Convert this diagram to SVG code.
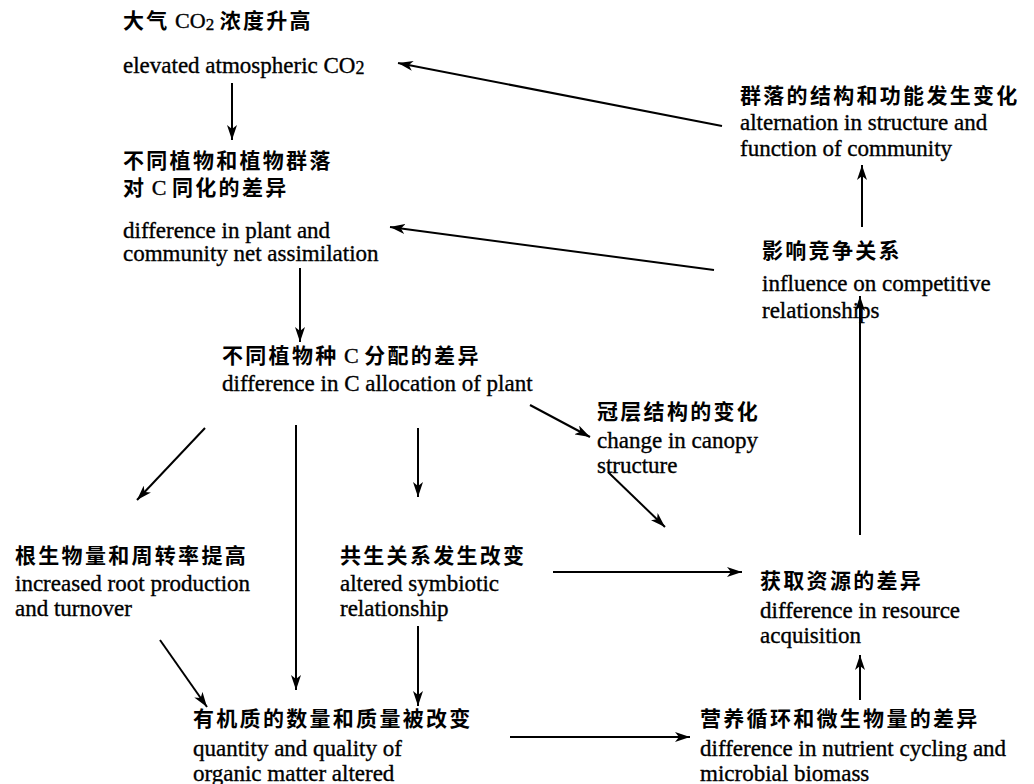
<svg xmlns="http://www.w3.org/2000/svg" width="1034" height="784" viewBox="0 0 1034 784">
<defs>
<style>
text{font-family:'Liberation Serif','Noto Sans CJK SC',serif;fill:#000}
.en{font-size:23px;stroke:#000;stroke-width:0.35px}
.zh{font-size:21px;letter-spacing:2.3px;font-weight:bold}
.lat{letter-spacing:0;font-weight:normal;font-size:22px;stroke:#000;stroke-width:0.35px}
.c{fill:none;stroke:#000;stroke-width:2}
</style>
<marker id="ah" markerUnits="userSpaceOnUse" markerWidth="16" markerHeight="10" refX="15" refY="5" orient="auto">
<path d="M0,0 L15,5 L0,10 L4,5 Z" fill="#000"/>
</marker>
</defs>
<rect width="1034" height="784" fill="#fff"/>
<g id="connectors">
<line class="c" x1="232" y1="83" x2="232" y2="140" marker-end="url(#ah)"/>
<line class="c" x1="722" y1="126" x2="398" y2="63" marker-end="url(#ah)"/>
<line class="c" x1="714" y1="270" x2="390" y2="227" marker-end="url(#ah)"/>
<line class="c" x1="300" y1="268" x2="300" y2="342" marker-end="url(#ah)"/>
<line class="c" x1="205" y1="428" x2="137" y2="500" marker-end="url(#ah)"/>
<line class="c" x1="296" y1="425" x2="296" y2="690" marker-end="url(#ah)"/>
<line class="c" x1="418" y1="428" x2="418" y2="497" marker-end="url(#ah)"/>
<line class="c" x1="530" y1="405" x2="590" y2="437" marker-end="url(#ah)"/>
<line class="c" x1="608" y1="472" x2="665" y2="527" marker-end="url(#ah)"/>
<line class="c" x1="553" y1="572" x2="742" y2="572" marker-end="url(#ah)"/>
<line class="c" x1="160" y1="640" x2="207" y2="707" marker-end="url(#ah)"/>
<line class="c" x1="418" y1="626" x2="418" y2="706" marker-end="url(#ah)"/>
<line class="c" x1="510" y1="737" x2="690" y2="737" marker-end="url(#ah)"/>
<line class="c" x1="860" y1="700" x2="860" y2="655" marker-end="url(#ah)"/>
<line class="c" x1="860" y1="535" x2="860" y2="296" marker-end="url(#ah)"/>
<line class="c" x1="862" y1="227" x2="862" y2="165" marker-end="url(#ah)"/>
</g>
<g id="n-co2">
<text class="zh" x="123" y="28">大气<tspan class="lat"> CO<tspan font-size="17" dy="2">2</tspan> </tspan><tspan dy="-2">浓度升高</tspan></text>
<text class="en" x="123" y="73">elevated atmospheric CO<tspan font-size="18" dy="1">2</tspan></text>
</g>
<g id="n-assim">
<text class="zh" x="123" y="168">不同植物和植物群落</text>
<text class="zh" x="123" y="195">对<tspan class="lat"> C </tspan>同化的差异</text>
<text class="en" x="123" y="238">difference in plant and</text>
<text class="en" x="123" y="261">community net assimilation</text>
</g>
<g id="n-alloc">
<text class="zh" x="222" y="363">不同植物种<tspan class="lat"> C </tspan>分配的差异</text>
<text class="en" x="222" y="391">difference in C allocation of plant</text>
</g>
<g id="n-community">
<text class="zh" x="740" y="103">群落的结构和功能发生变化</text>
<text class="en" x="740" y="130">alternation in structure and</text>
<text class="en" x="740" y="156">function of community</text>
</g>
<g id="n-compet">
<text class="zh" x="762" y="258">影响竞争关系</text>
<text class="en" x="762" y="291">influence on competitive</text>
<text class="en" x="762" y="318">relationships</text>
</g>
<g id="n-canopy">
<text class="zh" x="597" y="419">冠层结构的变化</text>
<text class="en" x="597" y="448">change in canopy</text>
<text class="en" x="597" y="473">structure</text>
</g>
<g id="n-root">
<text class="zh" x="15" y="563">根生物量和周转率提高</text>
<text class="en" x="15" y="591">increased root production</text>
<text class="en" x="15" y="616">and turnover</text>
</g>
<g id="n-symb">
<text class="zh" x="340" y="563">共生关系发生改变</text>
<text class="en" x="340" y="591">altered symbiotic</text>
<text class="en" x="340" y="616">relationship</text>
</g>
<g id="n-resource">
<text class="zh" x="760" y="588">获取资源的差异</text>
<text class="en" x="760" y="618">difference in resource</text>
<text class="en" x="760" y="643">acquisition</text>
</g>
<g id="n-organic">
<text class="zh" x="193" y="726">有机质的数量和质量被改变</text>
<text class="en" x="193" y="756">quantity and quality of</text>
<text class="en" x="193" y="781">organic matter altered</text>
</g>
<g id="n-nutrient">
<text class="zh" x="700" y="726">营养循环和微生物量的差异</text>
<text class="en" x="700" y="756">difference in nutrient cycling and</text>
<text class="en" x="700" y="781">microbial biomass</text>
</g>
</svg>
